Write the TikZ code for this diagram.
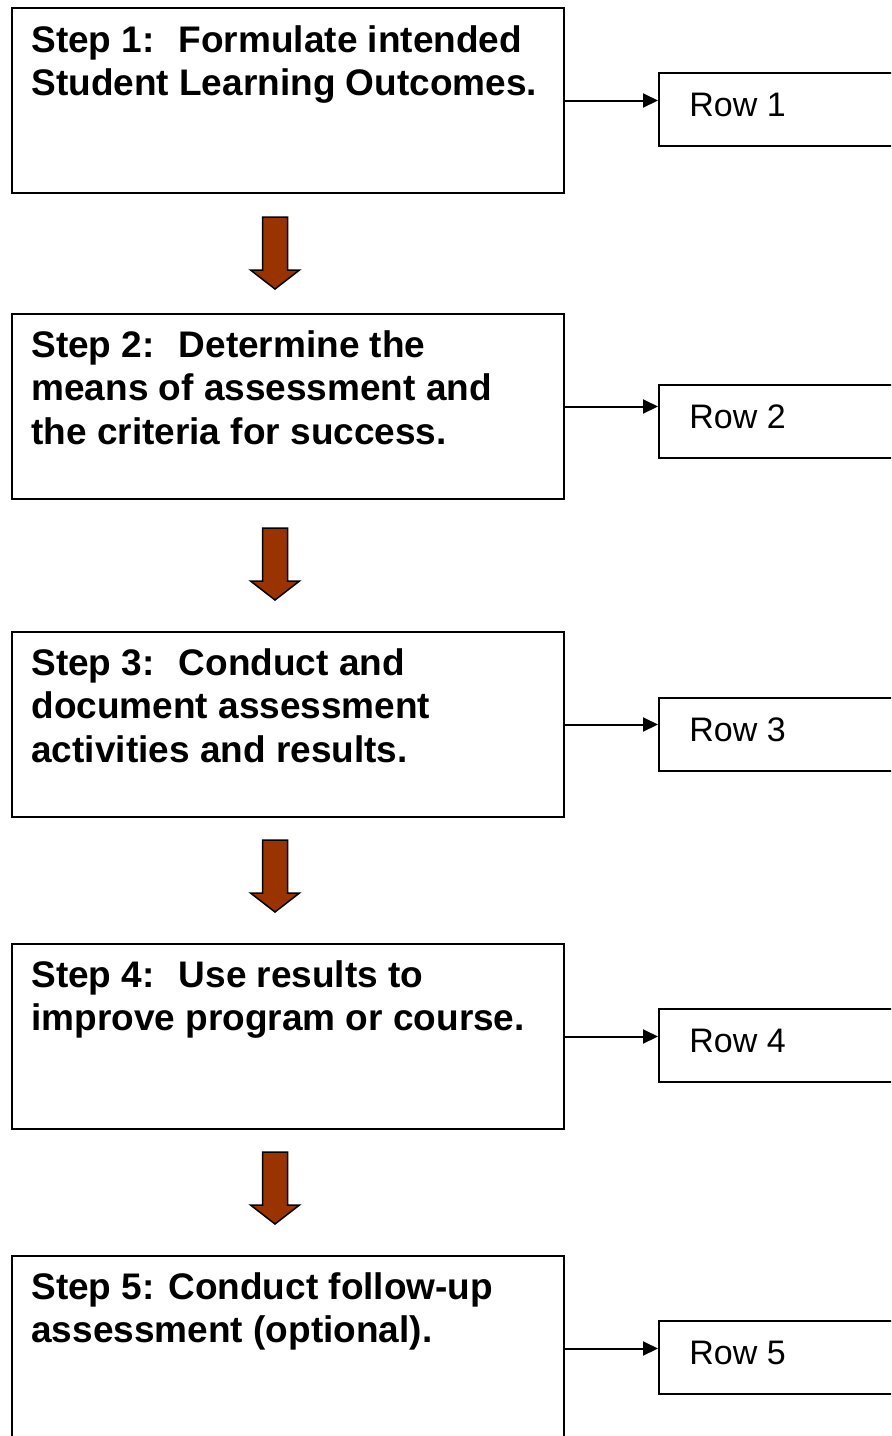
\documentclass[tikz,border=0pt]{standalone}
\usepackage{fontspec}
\setmainfont{Liberation Sans}
\usetikzlibrary{arrows.meta,calc}
\definecolor{arrowbrown}{RGB}{153,51,0}
\tikzset{
  stepbox/.style={draw=black, line width=1pt, rectangle, minimum width=276pt, minimum height=92.5pt, inner sep=0pt, anchor=north west},
  steptext/.style={anchor=north west, inner sep=0pt, align=left, font=\fontsize{18.5pt}{21.75pt}\selectfont\bfseries},
  rowbox/.style={draw=black, line width=1pt, rectangle, minimum width=141pt, minimum height=36.5pt, inner sep=0pt, anchor=north west},
  rowtext/.style={anchor=base west, inner sep=0pt, font=\fontsize{17pt}{20pt}\selectfont},
  conn/.style={line width=1pt, -{Triangle[length=7.5pt,width=7pt]}},
  flowarrow/.style={fill=arrowbrown, draw=black, line width=0.75pt, line join=miter},
  downarrow/.pic={\draw[flowarrow] (-12.5,0) -- (12.5,0) -- (12.5,53) -- (24.5,53) -- (0,72) -- (-24.5,53) -- (-12.5,53) -- cycle;}
}
\begin{document}
\begin{tikzpicture}[x=0.5pt, y=-0.5pt]
  \useasboundingbox (0,0) rectangle (891,1436);
  \clip (0,0) rectangle (891,1436);
  \fill[white] (0,0) rectangle (891,1436);

  % step boxes
  \node[stepbox] (s1) at (11,7) {};
  \node[stepbox] (s2) at (11,313) {};
  \node[stepbox] (s3) at (11,631) {};
  \node[stepbox] (s4) at (11,943) {};
  \node[stepbox] (s5) at (11,1255) {};

  % step texts
  \node[steptext] (t1) at ($(s1.north west)+(20,18)$) {Step 1:~ Formulate intended\\Student Learning Outcomes.};
  \node[steptext] (t2) at ($(s2.north west)+(20,17)$) {Step 2:~ Determine the\\means of assessment and\\the criteria for success.};
  \node[steptext] (t3) at ($(s3.north west)+(20,17)$) {Step 3:~ Conduct and\\document assessment\\activities and results.};
  \node[steptext] (t4) at ($(s4.north west)+(20,17)$) {Step 4:~ Use results to\\improve program or course.};
  \node[steptext] (t5) at ($(s5.north west)+(20,17)$) {Step 5: Conduct follow-up\\assessment (optional).};

  % row boxes
  \node[rowbox] (r1) at (658,72) {};
  \node[rowbox] (r2) at (658,384) {};
  \node[rowbox] (r3) at (658,697) {};
  \node[rowbox] (r4) at (658,1008) {};
  \node[rowbox] (r5) at (658,1320) {};

  \node[rowtext] (rt1) at ($(r1.north west)+(31,44)$) {Row 1};
  \node[rowtext] (rt2) at ($(r2.north west)+(31,44)$) {Row 2};
  \node[rowtext] (rt3) at ($(r3.north west)+(31,44)$) {Row 3};
  \node[rowtext] (rt4) at ($(r4.north west)+(31,44)$) {Row 4};
  \node[rowtext] (rt5) at ($(r5.north west)+(31,44)$) {Row 5};

  % connectors
  \foreach \i in {1,...,5} {
    \draw[conn] (s\i.east) -- (s\i.east -| r\i.west);
  }

  % brown down arrows
  \coordinate (a1) at (275,217);
  \coordinate (a2) at (275,528);
  \coordinate (a3) at (275,840);
  \coordinate (a4) at (275,1152);
  \foreach \i in {1,...,4} {
    \pic at (a\i) {downarrow};
  }
\end{tikzpicture}
\end{document}
